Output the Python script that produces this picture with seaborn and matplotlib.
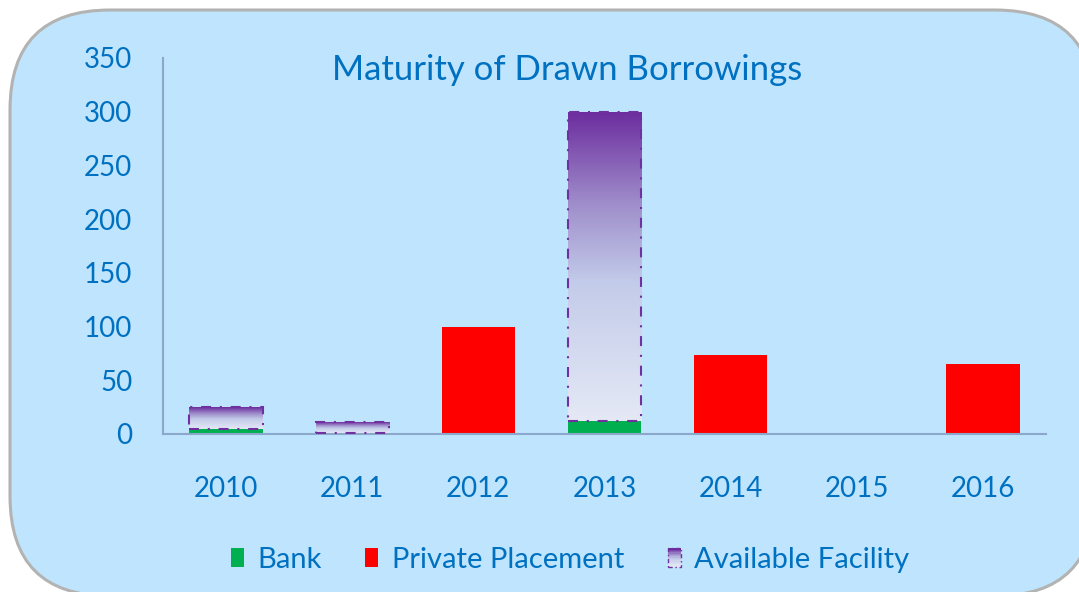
import numpy as np
import pandas as pd
import matplotlib
matplotlib.use("Agg")
import matplotlib.pyplot as plt
import seaborn as sns
from matplotlib.patches import FancyBboxPatch, Rectangle, Patch
from matplotlib.colors import LinearSegmentedColormap
from matplotlib.legend_handler import HandlerBase

# Maturity profile (in millions)
years = ["2010", "2011", "2012", "2013", "2014", "2015", "2016"]
bank = [5, 1, 0, 12, 0, 0, 0]
private_placement = [0, 0, 100, 0, 74, 0, 65]
available_facility = [20, 10, 0, 288, 0, 0, 0]
y_ticks = [0, 50, 100, 150, 200, 250, 300, 350]

GREEN = "#00B050"
RED = "#FF0000"
PURPLE = "#7030A0"
TEXT_BLUE = "#0070C0"
AXIS_COLOR = "#8CA7CC"
DASHDOT = (0, (4.8, 4.2, 1.0, 4.2))

# top-to-bottom fill of the facility bars
facility_cmap = LinearSegmentedColormap.from_list(
    "facility",
    [(0.0, "#6C2C9E"), (0.3, "#9F8ECB"), (0.55, "#C2CBE9"), (1.0, "#E5E9F6")],
)

sns.set_theme(style="white")
plt.rcParams["font.family"] = ["Lato", "DejaVu Sans"]

fig = plt.figure(figsize=(10.79, 5.92), dpi=100)
fig.patch.set_facecolor("white")

# rounded background panel
panel = FancyBboxPatch(
    (0.10, -0.04), 10.85, 5.86,
    boxstyle="round,pad=0,rounding_size=1.0",
    transform=fig.dpi_scale_trans,
    facecolor="#BEE5FD", edgecolor="#B3B3B3", linewidth=2.2, zorder=0,
)
fig.add_artist(panel)

ax = fig.add_axes([163 / 1079, (592 - 434) / 592, 883 / 1079, 376 / 592])
ax.set_facecolor("none")

df = pd.DataFrame({
    "year": years,
    "bank": bank,
    "private_placement": private_placement,
    "available_facility": available_facility,
})
df["pp_bottom"] = df["bank"]
df["fac_bottom"] = df["bank"] + df["private_placement"]

bar_w = 0.58
sns.barplot(data=df, x="year", y="bank", color=GREEN, saturation=1,
            width=bar_w, errorbar=None, edgecolor="none", linewidth=0, ax=ax)
sns.barplot(data=df, x="year", y="private_placement", color=RED, saturation=1,
            width=bar_w, errorbar=None, edgecolor="none", linewidth=0,
            bottom=df["pp_bottom"].to_numpy(), ax=ax)
sns.barplot(data=df, x="year", y="available_facility", color=PURPLE, saturation=1,
            width=bar_w, errorbar=None, linewidth=1.5,
            bottom=df["fac_bottom"].to_numpy(), ax=ax)

grad = np.linspace(0, 1, 256).reshape(-1, 1)
for patch in ax.containers[-1].patches:
    h = patch.get_height()
    if h <= 0:
        patch.set_visible(False)
        continue
    x0, y0 = patch.get_x(), patch.get_y()
    w = patch.get_width()
    img = ax.imshow(grad, cmap=facility_cmap, origin="upper", aspect="auto",
                    extent=(x0, x0 + w, y0, y0 + h), zorder=2,
                    interpolation="bilinear")
    img.set_clip_path(patch)
    patch.set_facecolor("none")
    patch.set_edgecolor(PURPLE)
    patch.set_linestyle(DASHDOT)
    patch.set_zorder(3)

ax.set_xlim(-0.5, 6.5)
ax.set_ylim(0, 350)
ax.set_yticks(y_ticks)
ax.set_yticklabels([str(v) for v in y_ticks])
ax.set_xlabel("")
ax.set_ylabel("")
ax.tick_params(axis="y", length=0, pad=22, labelsize=20, labelcolor=TEXT_BLUE)
ax.tick_params(axis="x", length=0, pad=30, labelsize=20, labelcolor=TEXT_BLUE)
for side in ("top", "right"):
    ax.spines[side].set_visible(False)
for side in ("left", "bottom"):
    ax.spines[side].set_color(AXIS_COLOR)
    ax.spines[side].set_linewidth(1.5)
ax.grid(False)

fig.text(567 / 1079, 1 - 70 / 592, "Maturity of Drawn Borrowings",
         ha="center", va="center", fontsize=25, color=TEXT_BLUE)


class GradientSwatch(HandlerBase):
    def create_artists(self, legend, orig_handle, xdescent, ydescent,
                       width, height, fontsize, trans):
        n = 14
        arts = []
        for i in range(n):
            r = Rectangle((-xdescent, -ydescent + height * (1 - (i + 1) / n)),
                          width, height / n + 0.05,
                          facecolor=facility_cmap(i / (n - 1)),
                          edgecolor="none", transform=trans)
            arts.append(r)
        border = Rectangle((-xdescent, -ydescent), width, height,
                           facecolor="none", edgecolor=PURPLE,
                           linestyle=(0, (3, 2, 1, 2)), linewidth=1.0,
                           transform=trans)
        arts.append(border)
        return arts


fac_handle = Rectangle((0, 0), 1, 1)
handles = [Patch(facecolor=GREEN, edgecolor="none"),
           Patch(facecolor=RED, edgecolor="none"),
           fac_handle]
labels = ["Bank", "Private Placement", "Available Facility"]
leg = fig.legend(handles, labels, loc="center",
                 bbox_to_anchor=(570 / 1079, 1 - 560 / 592),
                 ncol=3, frameon=False, fontsize=21,
                 handlelength=0.45, handleheight=0.62, handletextpad=0.45,
                 columnspacing=1.5,
                 handler_map={fac_handle: GradientSwatch()})
for t in leg.get_texts():
    t.set_color(TEXT_BLUE)

fig.savefig("out.png", dpi=100, facecolor=fig.get_facecolor())
